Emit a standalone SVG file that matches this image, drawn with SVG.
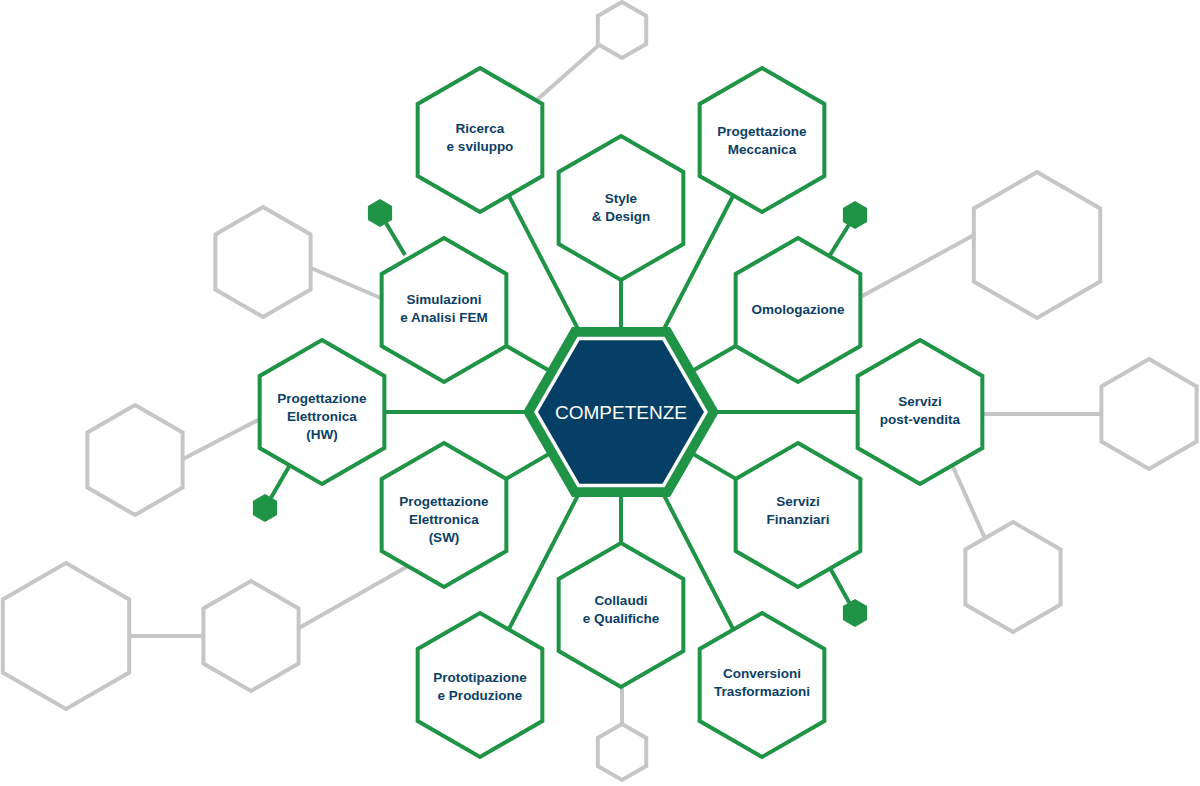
<svg xmlns="http://www.w3.org/2000/svg" xmlns:xlink="http://www.w3.org/1999/xlink" width="1200" height="786" viewBox="0 0 1200 786">
<style>
.g{fill:none;stroke:#c6c6c6;stroke-width:4}
.gl{stroke:#c6c6c6;stroke-width:4}
.cl{stroke:#1f9346;stroke-width:4}
.hx{fill:#fff;stroke:#1f9346;stroke-width:4}
.sm{fill:#1f9346}
.t{font-family:"Liberation Sans",Arial,sans-serif;font-weight:bold;font-size:13.5px;fill:#0d3f66;text-anchor:middle}
</style>
<defs>
<path id="h" d="M0,-72 L62.35,-36 L62.35,36 L0,72 L-62.35,36 L-62.35,-36Z"/>
<path id="s" d="M0,-14 L12.1,-7 L12.1,7 L0,14 L-12.1,7 L-12.1,-7Z"/>
</defs>
<g id="connectors">
<line class="gl" x1="530" y1="106" x2="599" y2="45"/>
<line class="gl" x1="311" y1="268" x2="390" y2="302"/>
<line class="gl" x1="855" y1="300" x2="974" y2="235"/>
<line class="gl" x1="980" y1="414" x2="1101" y2="414"/>
<line class="gl" x1="950" y1="460" x2="984.7" y2="538"/>
<line class="gl" x1="183" y1="459" x2="262" y2="418"/>
<line class="gl" x1="129" y1="636" x2="203" y2="636"/>
<line class="gl" x1="299" y1="628" x2="410" y2="565"/>
<line class="gl" x1="622" y1="685" x2="622" y2="724"/>
<line class="cl" x1="380" y1="213" x2="405" y2="255"/>
<line class="cl" x1="855" y1="215" x2="830" y2="255"/>
<line class="cl" x1="265" y1="508" x2="290" y2="465"/>
<line class="cl" x1="855" y1="613" x2="830" y2="568"/>
<line class="cl" x1="621" y1="412" x2="480" y2="140"/>
<line class="cl" x1="621" y1="412" x2="762" y2="140"/>
<line class="cl" x1="621" y1="412" x2="621" y2="208"/>
<line class="cl" x1="621" y1="412" x2="444" y2="310"/>
<line class="cl" x1="621" y1="412" x2="798" y2="310"/>
<line class="cl" x1="621" y1="412" x2="322" y2="412"/>
<line class="cl" x1="621" y1="412" x2="920" y2="412"/>
<line class="cl" x1="621" y1="412" x2="444" y2="515"/>
<line class="cl" x1="621" y1="412" x2="798" y2="515"/>
<line class="cl" x1="621" y1="412" x2="621" y2="615"/>
<line class="cl" x1="621" y1="412" x2="480" y2="685"/>
<line class="cl" x1="621" y1="412" x2="762" y2="685"/>
</g>
<g id="gray-hexes">
<polygon class="g" points="622,2 646.2,16 646.2,44 622,58 597.8,44 597.8,16"/>
<polygon class="g" points="622,724 646.2,738 646.2,766 622,780 597.8,766 597.8,738"/>
<polygon class="g" points="263,207 310.6,234.5 310.6,289.5 263,317 215.4,289.5 215.4,234.5"/>
<polygon class="g" points="1149,359 1196.6,386.5 1196.6,441.5 1149,469 1101.4,441.5 1101.4,386.5"/>
<polygon class="g" points="1013,522 1060.6,549.5 1060.6,604.5 1013,632 965.4,604.5 965.4,549.5"/>
<polygon class="g" points="135,405 182.6,432.5 182.6,487.5 135,515 87.4,487.5 87.4,432.5"/>
<polygon class="g" points="251,581 298.6,608.5 298.6,663.5 251,691 203.4,663.5 203.4,608.5"/>
<polygon class="g" points="1037,172 1100.2,208.5 1100.2,281.5 1037,318 973.8,281.5 973.8,208.5"/>
<polygon class="g" points="66,563 129.2,599.5 129.2,672.5 66,709 2.8,672.5 2.8,599.5"/>
</g>
<g id="small-hexes">
<use href="#s" x="380" y="213" class="sm"/>
<use href="#s" x="855" y="215" class="sm"/>
<use href="#s" x="265" y="508" class="sm"/>
<use href="#s" x="855" y="613" class="sm"/>
</g>
<g id="center">
<polygon fill="#1f9346" points="523,412 572,327 670,327 719,412 670,497 572,497"/>
<polygon fill="#fff" points="534,412 577.5,336.7 664.5,336.7 708,412 664.5,487.3 577.5,487.3"/>
<polygon fill="#063f65" points="538,412 579.5,340.2 662.5,340.2 704,412 662.5,483.8 579.5,483.8"/>
<text x="621" y="419" style="font-family:'Liberation Sans',Arial,sans-serif;font-size:19px;fill:#fff;text-anchor:middle">COMPETENZE</text>
</g>
<g id="n1"><use href="#h" x="480" y="140" class="hx"/><text class="t" x="480" y="133">Ricerca</text><text class="t" x="480" y="151">e sviluppo</text></g>
<g id="n2"><use href="#h" x="762" y="140" class="hx"/><text class="t" x="762" y="136">Progettazione</text><text class="t" x="762" y="154">Meccanica</text></g>
<g id="n3"><use href="#h" x="621" y="208" class="hx"/><text class="t" x="621" y="203">Style</text><text class="t" x="621" y="221">&amp; Design</text></g>
<g id="n4"><use href="#h" x="444" y="310" class="hx"/><text class="t" x="444" y="304">Simulazioni</text><text class="t" x="444" y="322">e Analisi FEM</text></g>
<g id="n5"><use href="#h" x="798" y="310" class="hx"/><text class="t" x="798" y="314">Omologazione</text></g>
<g id="n6"><use href="#h" x="322" y="412" class="hx"/><text class="t" x="322" y="403">Progettazione</text><text class="t" x="322" y="421">Elettronica</text><text class="t" x="322" y="439">(HW)</text></g>
<g id="n7"><use href="#h" x="920" y="412" class="hx"/><text class="t" x="920" y="406">Servizi</text><text class="t" x="920" y="424">post-vendita</text></g>
<g id="n8"><use href="#h" x="444" y="515" class="hx"/><text class="t" x="444" y="506">Progettazione</text><text class="t" x="444" y="524">Elettronica</text><text class="t" x="444" y="542">(SW)</text></g>
<g id="n9"><use href="#h" x="798" y="515" class="hx"/><text class="t" x="798" y="506">Servizi</text><text class="t" x="798" y="524">Finanziari</text></g>
<g id="n10"><use href="#h" x="621" y="615" class="hx"/><text class="t" x="621" y="605">Collaudi</text><text class="t" x="621" y="623">e Qualifiche</text></g>
<g id="n11"><use href="#h" x="480" y="685" class="hx"/><text class="t" x="480" y="682">Prototipazione</text><text class="t" x="480" y="700">e Produzione</text></g>
<g id="n12"><use href="#h" x="762" y="685" class="hx"/><text class="t" x="762" y="678">Conversioni</text><text class="t" x="762" y="696">Trasformazioni</text></g>
</svg>
